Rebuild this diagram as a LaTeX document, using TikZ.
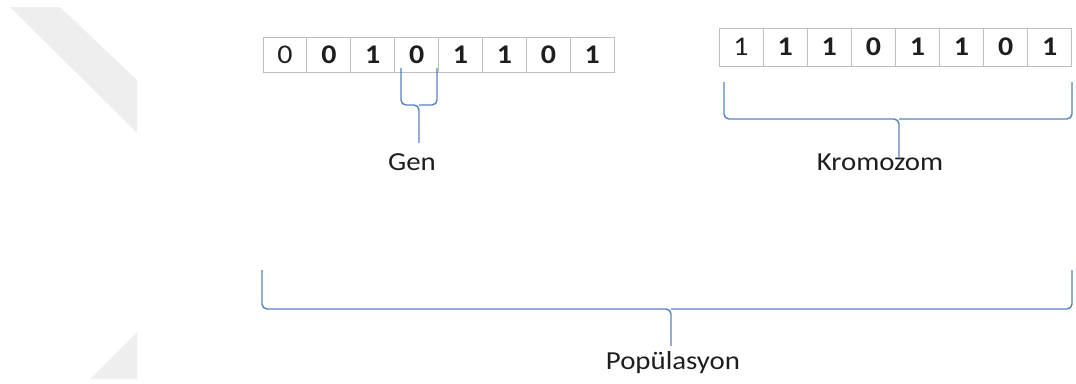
\documentclass[tikz,border=0pt]{standalone}
\usepackage{fontspec}
\usepackage{graphicx}
\setmainfont{Carlito}
\definecolor{bracec}{RGB}{84,130,192}
\definecolor{cellc}{RGB}{190,190,190}
\definecolor{markc}{RGB}{238,238,238}
\definecolor{txtc}{RGB}{30,30,30}
\newcommand{\wide}[1]{\scalebox{1.11}[1]{#1}}
\tikzset{
  cell/.style={draw=cellc, line width=0.9pt, minimum width=43.9pt, minimum height=35pt, inner sep=0pt, text=txtc, font=\fontsize{27}{29}\selectfont\bfseries},
  cellr/.style={cell, minimum width=44.1pt, minimum height=38pt},
  brace/.style={draw=bracec, line width=1.4pt, rounded corners=5pt},
  lbl/.style={font=\fontsize{26}{28}\selectfont, text=txtc, inner sep=0pt}
}
\begin{document}
\begin{tikzpicture}[x=1pt,y=-1pt]
\useasboundingbox (0,0) rectangle (1076,383);
% watermark shapes
\fill[markc] (10,7) -- (60,7) -- (137,80) -- (137,133) -- cycle;
\fill[markc] (137,332) -- (137,379) -- (90,379) -- cycle;
% left chromosome
\foreach \d [count=\i] in {0,0,1,0,1,1,0,1}{
  \node[cell] (a\i) at ({263+43.9*(\i-0.5)},54.5) {\wide{\ifnum\i=1 \mdseries\fi\d}};
}
% right chromosome
\foreach \d [count=\i] in {1,1,1,0,1,1,0,1}{
  \node[cellr] (b\i) at ({719+44.1*(\i-0.5)},47) {\wide{\ifnum\i=1 \mdseries\fi\d}};
}
% Gen brace
\coordinate (gL) at (401,68);
\coordinate (gR) at (437,68);
\coordinate (gT) at (419,143);
\draw[brace] (gL) -- (401,105) -- (419,105) -- (gT);
\draw[brace] (gR) -- (437,105) -- (419,105);
\node[lbl] (gen) at (412,162) {\wide{Gen}};
% Kromozom brace
\coordinate (kL) at (724,82);
\coordinate (kR) at (1072,82);
\coordinate (kT) at (899,157);
\draw[brace] (kL) -- (724,119) -- (899,119) -- (kT);
\draw[brace] (kR) -- (1072,119) -- (899,119);
\node[lbl] (krom) at (880,162) {\wide{Kromozom}};
% Populasyon brace
\coordinate (pL) at (262,270);
\coordinate (pR) at (1072,270);
\coordinate (pT) at (671,346);
\draw[brace] (pL) -- (262,309) -- (671,309) -- (pT);
\draw[brace] (pR) -- (1072,309) -- (671,309);
\node[lbl] (pop) at (673,363) {\wide{Popülasyon}};
\end{tikzpicture}
\end{document}
